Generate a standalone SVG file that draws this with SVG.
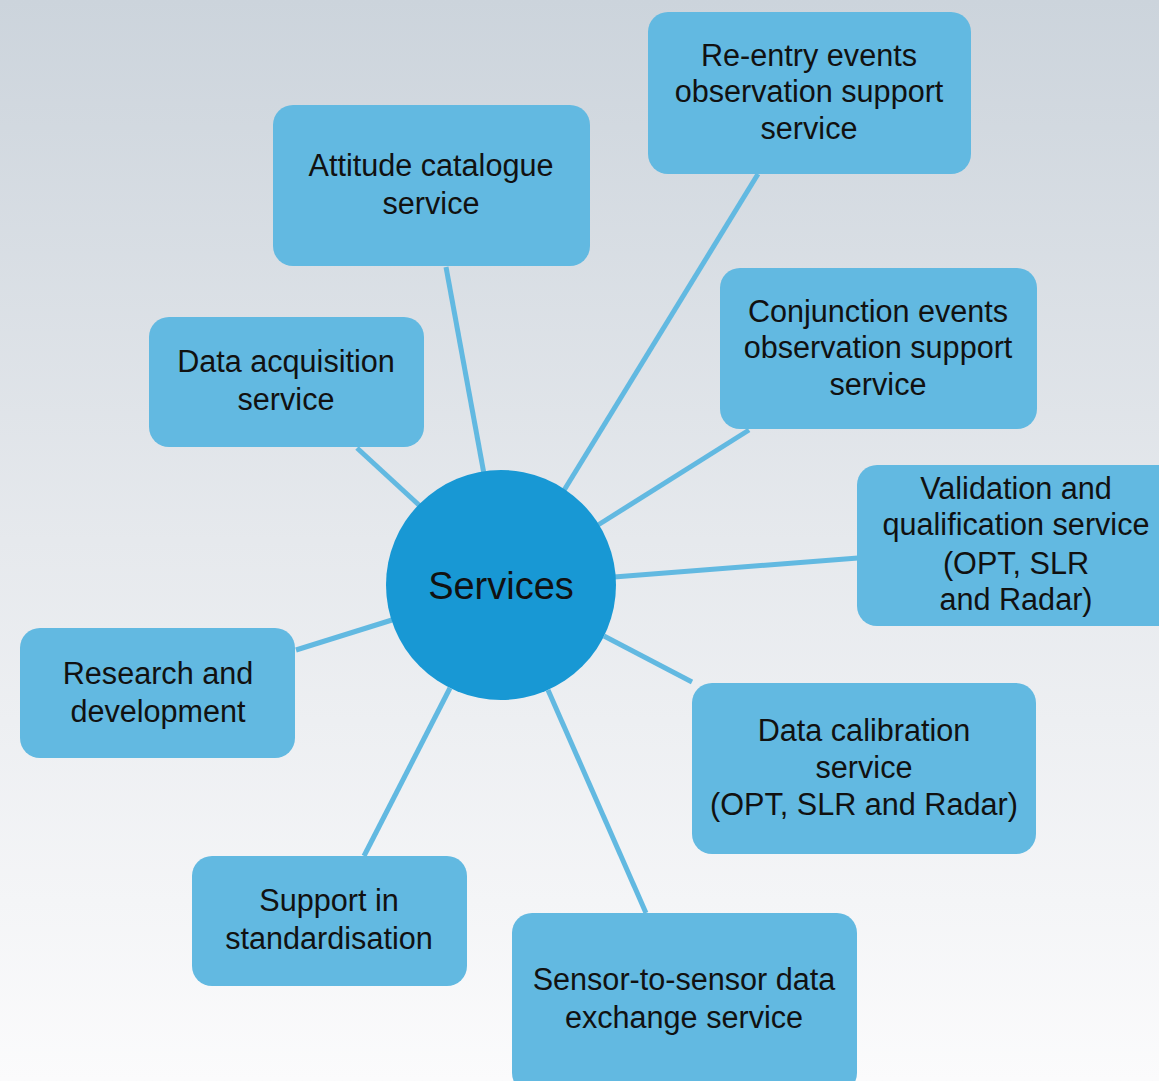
<svg xmlns="http://www.w3.org/2000/svg" width="1159" height="1081" viewBox="0 0 1159 1081">
<defs>
<linearGradient id="bg" x1="0" y1="0" x2="0" y2="1">
<stop offset="0" stop-color="#ccd4dc"/>
<stop offset="0.5" stop-color="#e6e9ed"/>
<stop offset="1" stop-color="#fbfbfc"/>
</linearGradient>
<style>
.box{fill:#62b9e1;}
.hub{fill:#1898d4;}
.t{font-family:"Liberation Sans",Arial,sans-serif;font-size:30.6px;fill:#111;text-anchor:middle;}
.ht{font-family:"Liberation Sans",Arial,sans-serif;font-size:38px;fill:#111;text-anchor:middle;}
.c line{stroke:#62b9e1;stroke-width:5;}
</style>
</defs>
<rect width="1159" height="1081" fill="url(#bg)"/>
<g id="connectors" class="c">
<line x1="446" y1="267" x2="484" y2="474"/>
<line x1="758" y1="174" x2="563" y2="492"/>
<line x1="357" y1="448" x2="420" y2="506"/>
<line x1="749" y1="430" x2="598" y2="525"/>
<line x1="858" y1="558" x2="614" y2="577"/>
<line x1="604" y1="636" x2="692" y2="682"/>
<line x1="548" y1="690" x2="646" y2="913"/>
<line x1="450" y1="688" x2="364" y2="856"/>
<line x1="296" y1="650" x2="392" y2="620"/>
</g>
<g id="hub">
<circle class="hub" cx="501" cy="585" r="115"/>
<text class="ht" x="501" y="599">Services</text>
</g>
<g id="attitude">
<rect class="box" x="273" y="105" width="317" height="161" rx="20"/>
<text class="t" x="431" y="176">Attitude catalogue</text>
<text class="t" x="431" y="214">service</text>
</g>
<g id="reentry">
<rect class="box" x="648" y="12" width="323" height="162" rx="20"/>
<text class="t" x="809" y="66">Re-entry events</text>
<text class="t" x="809" y="102">observation support</text>
<text class="t" x="809" y="139">service</text>
</g>
<g id="acquisition">
<rect class="box" x="149" y="317" width="275" height="130" rx="20"/>
<text class="t" x="286" y="372">Data acquisition</text>
<text class="t" x="286" y="410">service</text>
</g>
<g id="conjunction">
<rect class="box" x="720" y="268" width="317" height="161" rx="20"/>
<text class="t" x="878" y="322">Conjunction events</text>
<text class="t" x="878" y="358">observation support</text>
<text class="t" x="878" y="395">service</text>
</g>
<g id="validation">
<rect class="box" x="857" y="465" width="322" height="161" rx="20"/>
<text class="t" x="1016" y="499">Validation and</text>
<text class="t" x="1016" y="535">qualification service</text>
<text class="t" x="1016" y="574">(OPT, SLR</text>
<text class="t" x="1016" y="610">and Radar)</text>
</g>
<g id="research">
<rect class="box" x="20" y="628" width="275" height="130" rx="20"/>
<text class="t" x="158" y="684">Research and</text>
<text class="t" x="158" y="722">development</text>
</g>
<g id="calibration">
<rect class="box" x="692" y="683" width="344" height="171" rx="20"/>
<text class="t" x="864" y="741">Data calibration</text>
<text class="t" x="864" y="778">service</text>
<text class="t" x="864" y="815">(OPT, SLR and Radar)</text>
</g>
<g id="standardisation">
<rect class="box" x="192" y="856" width="275" height="130" rx="20"/>
<text class="t" x="329" y="911">Support in</text>
<text class="t" x="329" y="949">standardisation</text>
</g>
<g id="sensor">
<rect class="box" x="512" y="913" width="345" height="180" rx="20"/>
<text class="t" x="684" y="990">Sensor-to-sensor data</text>
<text class="t" x="684" y="1028">exchange service</text>
</g>
</svg>
